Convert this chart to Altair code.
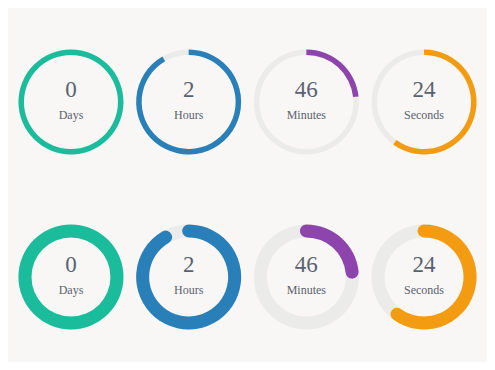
import math
import altair as alt
import pandas as pd

units = ["Days", "Hours", "Minutes", "Seconds"]
values = [0, 2, 46, 24]
maxima = [365, 24, 60, 60]
colors = ["#1abc9c", "#2980b9", "#8e44ad", "#f39c12"]
rows = ["thin", "thick"]

TAU = 2 * math.pi
OUTER = 52.5
THICK = {"thin": 5.5, "thick": 13}

recs = []
for r_i, row in enumerate(rows):
    for i, (u, v, m, c) in enumerate(zip(units, values, maxima, colors)):
        frac = 1 - v / m
        inner = OUTER - THICK[row]
        ext = 0.0
        if row == "thick" and frac < 1:
            ext = (THICK[row] / 2) / ((OUTER + inner) / 2)
        recs.append(dict(unit=u, idx=i, row=r_i, value=str(v), color=c,
                         rout=OUTER, rin=inner,
                         t0=-ext, t1=frac * TAU + ext))
df = pd.DataFrame(recs)

xs = alt.X("idx:Q", scale=alt.Scale(domain=[-0.535, 3.535]), axis=None)
ys = alt.Y("row:Q", scale=alt.Scale(domain=[-0.537, 1.486], reverse=True), axis=None)

base = alt.Chart(df).encode(x=xs, y=ys)

track = base.mark_arc(color="#ebebea").encode(
    theta=alt.value(0), theta2=alt.value(TAU),
    radius=alt.Radius("rout:Q", scale=None), radius2=alt.Radius2("rin:Q"))

thin = base.transform_filter("datum.row == 0").mark_arc().encode(
    theta=alt.Theta("t0:Q", scale=None), theta2=alt.Theta2("t1:Q"),
    radius=alt.Radius("rout:Q", scale=None), radius2=alt.Radius2("rin:Q"),
    color=alt.Color("color:N", scale=None))

thick = base.transform_filter("datum.row == 1").mark_arc(cornerRadius=6.5).encode(
    theta=alt.Theta("t0:Q", scale=None), theta2=alt.Theta2("t1:Q"),
    radius=alt.Radius("rout:Q", scale=None), radius2=alt.Radius2("rin:Q"),
    color=alt.Color("color:N", scale=None))

num = base.mark_text(font="Liberation Serif", fontSize=23, color="#5a6270",
                     baseline="alphabetic", dy=-5).encode(text="value:N")
lab = base.mark_text(font="Liberation Serif", fontSize=12, color="#5a6270",
                     baseline="alphabetic", dy=17).encode(text="unit:N")

chart = alt.layer(track, thin, thick, num, lab).properties(
    width=479, height=354,
    autosize=alt.AutoSizeParams(type="fit", contains="padding"),
    padding=0, background="#f8f7f5"
).configure_view(stroke=None)

chart.save("out.html", embed_options={"renderer": "svg", "actions": False})
